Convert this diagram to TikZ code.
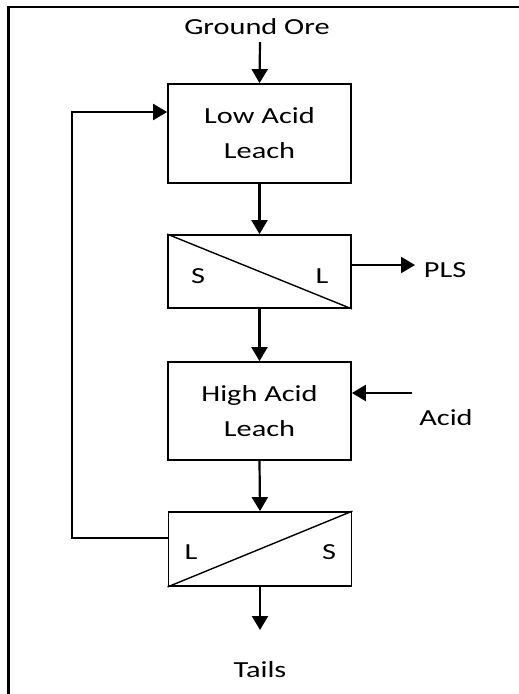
\documentclass[tikz,border=0pt]{standalone}
\usepackage{fontspec}
\usepackage{graphicx}
\setmainfont{Carlito}
\usetikzlibrary{arrows.meta}
\newcommand{\wt}[1]{\scalebox{1.32}[1]{#1}}
\tikzset{
  x=1pt, y=1pt,
  blk/.style={draw, line width=1.8pt, rectangle, minimum width=183pt, inner sep=0pt,
    align=center, font=\fontsize{23}{35}\selectfont},
  lbl/.style={inner sep=0pt, font=\fontsize{23}{26}\selectfont},
  flow/.style={line width=2.2pt, -{Triangle[length=14pt,width=16pt]}},
  frame/.style={line width=2.5pt}
}
\begin{document}
\begin{tikzpicture}
\useasboundingbox (0,0) rectangle (519,-694);
% partial frame
\coordinate (fa) at (8.5,-694);
\coordinate (fb) at (8.5,-7);
\coordinate (fc) at (519,-7);
\draw[frame] (fa) -- (fb) -- (fc);

\node[lbl] (ore) at (257,-27) {\wt{Ground Ore}};
\coordinate (oretop) at (260,-42);

\node[blk, minimum height=99pt] (lal) at (259.5,-133.5) {\wt{Low Acid}\\\wt{Leach}};
\node[blk, minimum height=73pt] (sep1) at (259.5,-271.5) {};
\draw[line width=1.4pt] (sep1.north west) -- (sep1.south east);
\node[lbl] (s1) at (198,-276) {\wt{S}};
\node[lbl] (l1) at (322,-276) {\wt{L}};

\node[blk, minimum height=98pt] (hal) at (259.5,-411) {\wt{High Acid}\\\wt{Leach}};
\node[blk, minimum height=74pt] (sep2) at (260,-549) {};
\draw[line width=1.4pt] (sep2.south west) -- (sep2.north east);
\node[lbl] (l2) at (191,-552) {\wt{L}};
\node[lbl] (s2) at (329,-552) {\wt{S}};

\node[lbl] (pls) at (445,-270) {\wt{PLS}};
\node[lbl] (acid) at (446,-418) {\wt{Acid}};
\node[lbl] (tails) at (260,-670) {\wt{Tails}};

\coordinate (plsend) at (415,-265);
\coordinate (acidstart) at (412,-393);
\coordinate (tailsend) at (260,-630);
\coordinate (fb1) at (72,-538);
\coordinate (fb2) at (72,-112);

\draw[flow] (oretop) -- (lal.north);
\draw[flow] (lal.south) -- (sep1.north);
\draw[flow] (sep1.south) -- (hal.north);
\draw[flow] (hal.south) -- (sep2.north);
\draw[flow] (sep2.south) -- (tailsend);
\draw[flow] (sep1.east |- plsend) -- (plsend);
\draw[flow] (acidstart) -- (hal.east |- acidstart);
\draw[flow] (sep2.west |- fb1) -- (fb1) -- (fb2) -- (lal.west |- fb2);
\end{tikzpicture}
\end{document}
